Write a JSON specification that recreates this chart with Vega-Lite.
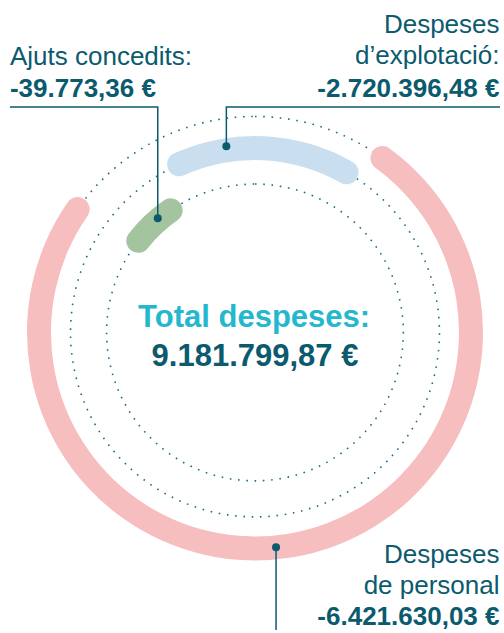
{
  "$schema": "https://vega.github.io/schema/vega-lite/v6.json",
  "width": 504,
  "height": 633,
  "autosize": {"type": "fit", "contains": "padding"},
  "padding": 0,
  "background": "white",
  "config": {"view": {"stroke": null}, "text": {"font": "Liberation Sans"}},
  "datasets": {
    "arcs": [
      {"category": "Despeses de personal", "amount": -6421630.03, "ring": 1.0, "start": 33, "end": 308},
      {"category": "Despeses d’explotació", "amount": -2720396.48, "ring": 0.854, "start": -28, "end": 33.5},
      {"category": "Ajuts concedits", "amount": -39773.36, "ring": 0.687, "start": -56.5, "end": -30}
    ],
    "anchors": [
      {"category": "Despeses de personal", "x": 0.0981, "y": -0.9977},
      {"category": "Despeses d’explotació", "x": -0.1333, "y": 0.8648},
      {"category": "Ajuts concedits", "x": -0.4528, "y": 0.5301}
    ],
    "leaders": [
      {"category": "Ajuts concedits", "order": 1, "x": -1.1412, "y": 1.0472},
      {"category": "Ajuts concedits", "order": 2, "x": -0.4528, "y": 1.0472},
      {"category": "Ajuts concedits", "order": 3, "x": -0.4528, "y": 0.5301},
      {"category": "Despeses d’explotació", "order": 1, "x": 1.1412, "y": 1.0472},
      {"category": "Despeses d’explotació", "order": 2, "x": -0.1333, "y": 1.0472},
      {"category": "Despeses d’explotació", "order": 3, "x": -0.1333, "y": 0.8648},
      {"category": "Despeses de personal", "order": 1, "x": 0.0981, "y": -0.9977},
      {"category": "Despeses de personal", "order": 2, "x": 0.0981, "y": -1.3819}
    ],
    "labels": [
      {"text": "Ajuts concedits:", "x": -1.1412, "y": 1.2417, "kind": "name", "side": "left"},
      {"text": "-39.773,36 €", "x": -1.1412, "y": 1.0917, "kind": "amount", "side": "left"},
      {"text": "Despeses", "x": 1.1389, "y": 1.3898, "kind": "name", "side": "right"},
      {"text": "d’explotació:", "x": 1.1389, "y": 1.2454, "kind": "name", "side": "right"},
      {"text": "-2.720.396,48 €", "x": 1.1389, "y": 1.0917, "kind": "amount", "side": "right"},
      {"text": "Despeses", "x": 1.1389, "y": -1.0718, "kind": "name", "side": "right"},
      {"text": "de personal", "x": 1.1389, "y": -1.213, "kind": "name", "side": "right"},
      {"text": "-6.421.630,03 €", "x": 1.1389, "y": -1.3588, "kind": "amount", "side": "right"},
      {"text": "Total despeses:", "x": -0.004, "y": 0.0269, "kind": "totalTitle", "side": "center"},
      {"text": "9.181.799,87 €", "x": 0.0, "y": -0.1537, "kind": "totalValue", "side": "center"}
    ]
  },
  "layer": [
    {
      "data": {"name": "arcs"},
      "mark": {"type": "arc", "filled": false, "stroke": "#1d6f84", "strokeWidth": 1.6, "strokeDash": [1.6, 6.7]},
      "encoding": {
        "x": {"datum": 0, "type": "quantitative", "scale": {"type": "linear", "domain": [-1.1875, 1.1458], "nice": false, "zero": false}, "axis": null},
        "y": {"datum": 0, "type": "quantitative", "scale": {"type": "linear", "domain": [-1.3866, 1.544], "nice": false, "zero": false}, "axis": null},
        "theta": {"datum": 0, "type": "quantitative", "scale": {"type": "linear", "domain": [0, 360], "range": [0, 6.283185307179586], "zero": false, "nice": false}},
        "theta2": {"datum": 360},
        "radius": {"field": "ring", "type": "quantitative", "stack": null, "scale": {"type": "linear", "domain": [0, 1], "range": [0, 216], "zero": true, "nice": false}}
      }
    },
    {
      "data": {"name": "arcs"},
      "mark": {"type": "arc", "cornerRadius": 12, "radiusOffset": 12, "radius2Offset": -12},
      "encoding": {
        "x": {"datum": 0, "type": "quantitative", "scale": {"type": "linear", "domain": [-1.1875, 1.1458], "nice": false, "zero": false}, "axis": null},
        "y": {"datum": 0, "type": "quantitative", "scale": {"type": "linear", "domain": [-1.3866, 1.544], "nice": false, "zero": false}, "axis": null},
        "theta": {"field": "start", "type": "quantitative", "stack": null, "scale": {"type": "linear", "domain": [0, 360], "range": [0, 6.283185307179586], "zero": false, "nice": false}},
        "theta2": {"field": "end"},
        "radius": {"field": "ring", "type": "quantitative", "stack": null, "scale": {"type": "linear", "domain": [0, 1], "range": [0, 216], "zero": true, "nice": false}},
        "radius2": {"field": "ring"},
        "color": {"field": "category", "type": "nominal", "legend": null, "scale": {"domain": ["Despeses de personal", "Despeses d’explotació", "Ajuts concedits"], "range": ["#f6bebe", "#c9dff0", "#a3c49f"]}}
      }
    },
    {
      "data": {"name": "leaders"},
      "mark": {"type": "line", "color": "#0b5a6e", "strokeWidth": 1.5, "strokeJoin": "miter"},
      "encoding": {
        "x": {"field": "x", "type": "quantitative", "scale": {"type": "linear", "domain": [-1.1875, 1.1458], "nice": false, "zero": false}, "axis": null},
        "y": {"field": "y", "type": "quantitative", "scale": {"type": "linear", "domain": [-1.3866, 1.544], "nice": false, "zero": false}, "axis": null},
        "detail": {"field": "category", "type": "nominal"},
        "order": {"field": "order", "type": "quantitative"}
      }
    },
    {
      "data": {"name": "anchors"},
      "mark": {"type": "circle", "color": "#0b5a6e", "opacity": 1, "size": 64},
      "encoding": {
        "x": {"field": "x", "type": "quantitative", "scale": {"type": "linear", "domain": [-1.1875, 1.1458], "nice": false, "zero": false}, "axis": null},
        "y": {"field": "y", "type": "quantitative", "scale": {"type": "linear", "domain": [-1.3866, 1.544], "nice": false, "zero": false}, "axis": null}
      }
    },
    {
      "data": {"name": "labels"},
      "transform": [{"filter": "datum.kind === 'name' && datum.side === 'left'"}],
      "mark": {"type": "text", "align": "left", "baseline": "alphabetic", "fontSize": 26, "color": "#0b5a6e"},
      "encoding": {
        "x": {"field": "x", "type": "quantitative", "scale": {"type": "linear", "domain": [-1.1875, 1.1458], "nice": false, "zero": false}, "axis": null},
        "y": {"field": "y", "type": "quantitative", "scale": {"type": "linear", "domain": [-1.3866, 1.544], "nice": false, "zero": false}, "axis": null},
        "text": {"field": "text"}
      }
    },
    {
      "data": {"name": "labels"},
      "transform": [{"filter": "datum.kind === 'amount' && datum.side === 'left'"}],
      "mark": {"type": "text", "align": "left", "baseline": "alphabetic", "fontSize": 26, "fontWeight": "bold", "color": "#0b5a6e"},
      "encoding": {
        "x": {"field": "x", "type": "quantitative", "scale": {"type": "linear", "domain": [-1.1875, 1.1458], "nice": false, "zero": false}, "axis": null},
        "y": {"field": "y", "type": "quantitative", "scale": {"type": "linear", "domain": [-1.3866, 1.544], "nice": false, "zero": false}, "axis": null},
        "text": {"field": "text"}
      }
    },
    {
      "data": {"name": "labels"},
      "transform": [{"filter": "datum.kind === 'name' && datum.side === 'right'"}],
      "mark": {"type": "text", "align": "right", "baseline": "alphabetic", "fontSize": 26, "color": "#0b5a6e"},
      "encoding": {
        "x": {"field": "x", "type": "quantitative", "scale": {"type": "linear", "domain": [-1.1875, 1.1458], "nice": false, "zero": false}, "axis": null},
        "y": {"field": "y", "type": "quantitative", "scale": {"type": "linear", "domain": [-1.3866, 1.544], "nice": false, "zero": false}, "axis": null},
        "text": {"field": "text"}
      }
    },
    {
      "data": {"name": "labels"},
      "transform": [{"filter": "datum.kind === 'amount' && datum.side === 'right'"}],
      "mark": {"type": "text", "align": "right", "baseline": "alphabetic", "fontSize": 26, "fontWeight": "bold", "color": "#0b5a6e"},
      "encoding": {
        "x": {"field": "x", "type": "quantitative", "scale": {"type": "linear", "domain": [-1.1875, 1.1458], "nice": false, "zero": false}, "axis": null},
        "y": {"field": "y", "type": "quantitative", "scale": {"type": "linear", "domain": [-1.3866, 1.544], "nice": false, "zero": false}, "axis": null},
        "text": {"field": "text"}
      }
    },
    {
      "data": {"name": "labels"},
      "transform": [{"filter": "datum.kind === 'totalTitle'"}],
      "mark": {"type": "text", "align": "center", "baseline": "alphabetic", "fontSize": 31, "fontWeight": "bold", "color": "#25b7cd"},
      "encoding": {
        "x": {"field": "x", "type": "quantitative", "scale": {"type": "linear", "domain": [-1.1875, 1.1458], "nice": false, "zero": false}, "axis": null},
        "y": {"field": "y", "type": "quantitative", "scale": {"type": "linear", "domain": [-1.3866, 1.544], "nice": false, "zero": false}, "axis": null},
        "text": {"field": "text"}
      }
    },
    {
      "data": {"name": "labels"},
      "transform": [{"filter": "datum.kind === 'totalValue'"}],
      "mark": {"type": "text", "align": "center", "baseline": "alphabetic", "fontSize": 31, "fontWeight": "bold", "color": "#0b5a6e"},
      "encoding": {
        "x": {"field": "x", "type": "quantitative", "scale": {"type": "linear", "domain": [-1.1875, 1.1458], "nice": false, "zero": false}, "axis": null},
        "y": {"field": "y", "type": "quantitative", "scale": {"type": "linear", "domain": [-1.3866, 1.544], "nice": false, "zero": false}, "axis": null},
        "text": {"field": "text"}
      }
    }
  ]
}
